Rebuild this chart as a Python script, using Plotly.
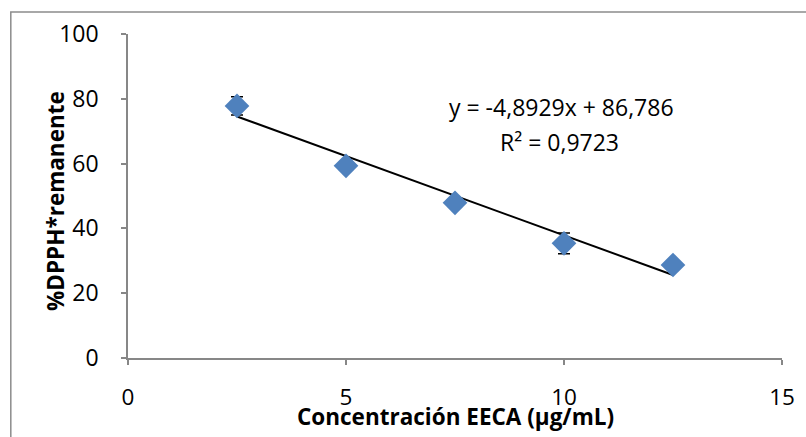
import plotly.graph_objects as go

# Concentration of EECA (µg/mL) and remaining DPPH radical (%)
conc = [2.5, 5.0, 7.5, 10.0, 12.5]
dpph = [77.8, 59.3, 47.9, 35.4, 28.7]
dpph_sd = [2.8, 1.0, 1.5, 3.2, 1.0]

# Linear trendline coefficients
slope = -4.8929
intercept = 86.786
r2 = 0.9723

x_ticks = [0, 5, 10, 15]
y_ticks = [0, 20, 40, 60, 80, 100]

FONT = "'Open Sans', sans-serif"
AXIS_GREY = "#878787"

trend_x = [conc[0], conc[-1]]
trend_y = [slope * v + intercept for v in trend_x]

fig = go.Figure()

fig.add_trace(go.Scatter(
    x=trend_x, y=trend_y, mode="lines",
    line=dict(color="black", width=2),
    hoverinfo="skip", showlegend=False,
))

fig.add_trace(go.Scatter(
    x=conc, y=dpph, mode="markers",
    marker=dict(symbol="diamond", size=19, color="#4F81BD", line=dict(width=0)),
    error_y=dict(type="data", array=dpph_sd, visible=True,
                 color="black", thickness=1.5, width=6),
    showlegend=False,
))

fmt = lambda v: f"{v}".replace(".", ",")

# Trendline equation and coefficient of determination
fig.add_annotation(
    x=9.95, y=77.5, xref="x", yref="y",
    text=f"y = {fmt(slope)}x + {fmt(intercept)}", showarrow=False,
    font=dict(family=FONT, size=23, color="black"),
)
fig.add_annotation(
    x=9.9, y=66.7, xref="x", yref="y",
    text=f"R² = {fmt(r2)}", showarrow=False,
    font=dict(family=FONT, size=23, color="black"),
)

# Axis titles
fig.add_annotation(
    x=0.5, y=0, xref="paper", yref="paper", yanchor="middle",
    yshift=-58, text="<b>Concentración EECA (µg/mL)</b>",
    showarrow=False, font=dict(family=FONT, size=22.5, color="black"),
)
fig.add_annotation(
    x=0, y=0.5, xref="paper", yref="paper", xanchor="center",
    xshift=-73, yshift=-5, textangle=-90, text="<b>%DPPH*remanente</b>",
    showarrow=False, font=dict(family=FONT, size=22.5, color="black"),
)

# Chart-area frame
fig.add_shape(
    type="rect", xref="paper", yref="paper",
    x0=-0.1792, x1=1.2, y0=-0.5, y1=1.0679,
    line=dict(color="#8c8c8c", width=1.5), layer="below",
)

fig.update_xaxes(
    range=[0, 15], tickvals=x_ticks, ticktext=[str(t) for t in x_ticks],
    showline=True, linecolor=AXIS_GREY, linewidth=1.5,
    ticks="outside", ticklen=5, tickcolor=AXIS_GREY, tickwidth=1.5,
    ticklabelstandoff=13,
    showgrid=False, zeroline=False,
    tickfont=dict(family=FONT, size=22.5, color="black"),
)
fig.update_yaxes(
    range=[0, 100], tickvals=y_ticks, ticktext=[str(t) for t in y_ticks],
    showline=True, linecolor=AXIS_GREY, linewidth=1.5,
    ticks="outside", ticklen=5, tickcolor=AXIS_GREY, tickwidth=1.5,
    ticklabelstandoff=18,
    showgrid=False, zeroline=False,
    tickfont=dict(family=FONT, size=23, color="black"),
)

fig.update_layout(
    width=806, height=437,
    margin=dict(l=128, r=24, t=34, b=79),
    paper_bgcolor="white", plot_bgcolor="white",
    font=dict(family=FONT),
)

fig.write_html("out.html")
